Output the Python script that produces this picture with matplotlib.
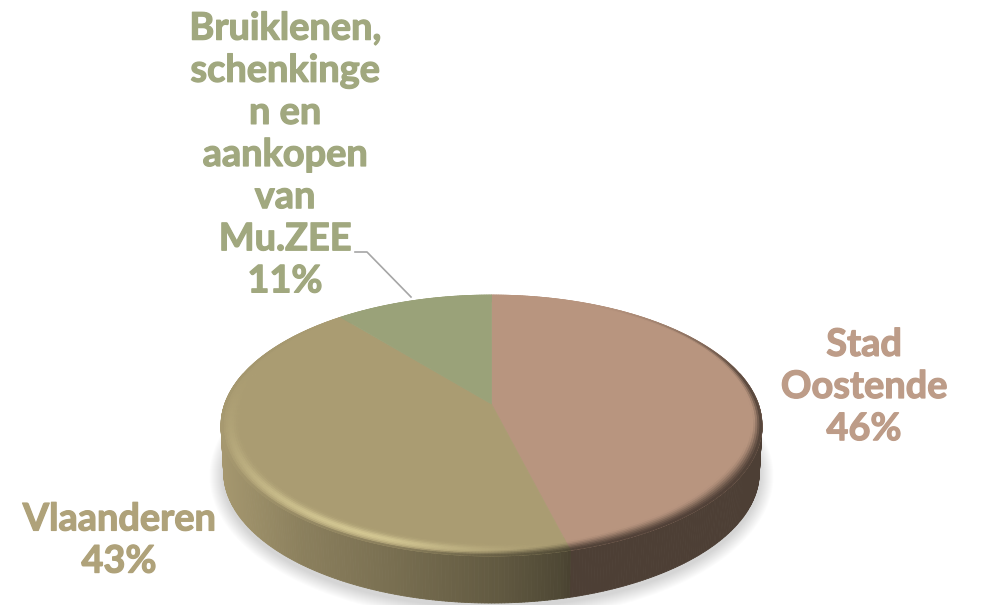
import numpy as np
import matplotlib
matplotlib.use("Agg")
import matplotlib.pyplot as plt
import matplotlib.patheffects as pe
from matplotlib.collections import PolyCollection
from matplotlib.colors import to_rgb

categories = ["Stad\nOostende", "Vlaanderen", "Bruiklenen,\nschenkinge\nn en\naankopen\nvan\nMu.ZEE"]
values = [46, 43, 11]
face_colors = ["#B8957F", "#AA9C72", "#9AA279"]
label_colors = ["#BD9C88", "#AFA27A", "#A1A87F"]
highlight_color = "#D6CA95"

plt.rcParams["font.family"] = ["Lato", "DejaVu Sans"]
fig = plt.figure(figsize=(9.82, 6.05), dpi=100)
ax = fig.add_axes([0, 0, 1, 1])
ax.set_xlim(0, 982)
ax.set_ylim(605, 0)
ax.axis("off")

# perspective view of the unit disc
CX, CY0, K, A, B = 491.5, 404.0, 0.1648, 266.8, -60.4
DEPTH = 47.0

def project(r, phi):
    u, v = r * np.cos(phi), r * np.sin(phi)
    d = 1 + K * v
    return CX + A * u / d, (B * v + CY0) / d

def side_factor(x):
    return np.interp(x, [222, 300, 400, 500, 562, 572, 763],
                     [0.97, 0.82, 0.70, 0.57, 0.46, 0.42, 0.42])

def smooth(a, b, x):
    s = np.clip((x - a) / (b - a), 0, 1)
    return s * s * (3 - 2 * s)

# soft shadow
for i in range(14):
    grow = 14 - i
    th = np.linspace(0, 2 * np.pi, 240)
    ax.fill(CX + (268 + grow) * np.cos(th), 476 + (131 + grow) * np.sin(th),
            color="#000000", alpha=0.012, lw=0, zorder=1)

shares = np.array(values, dtype=float) / np.sum(values)
edges = np.pi / 2 - 2 * np.pi * np.concatenate([[0], np.cumsum(shares)])
step = np.radians(0.6)

for k in range(len(values)):
    phi1, phi0 = edges[k], edges[k + 1]
    n = max(int((phi1 - phi0) / step), 2)
    phis = np.linspace(phi1, phi0, n + 1)
    base = np.array(to_rgb(face_colors[k]))
    hi = np.array(to_rgb(highlight_color))

    # wall
    quads, cols = [], []
    for a, b in zip(phis[:-1], phis[1:]):
        if np.sin((a + b) / 2) > 0.25:
            continue
        xa, ya = project(1, a)
        xb, yb = project(1, b)
        xa2, xb2 = CX + (xa - CX) * 0.99, CX + (xb - CX) * 0.99
        quads.append([(xa, ya), (xb, yb), (xb2, yb + DEPTH), (xa2, ya + DEPTH)])
        cols.append(np.clip(base * side_factor((xa + xb) / 2), 0, 1))
    if quads:
        ax.add_collection(PolyCollection(quads, facecolors=cols, edgecolors=cols,
                                         linewidths=0.6, zorder=2))

    # flat top
    x, y = project(1, phis)
    ax.fill(np.r_[CX, x], np.r_[CY0, y], color=face_colors[k], lw=0.5, zorder=3)

    # rounded edge
    rings = np.linspace(0.925, 1.0, 11)
    quads, cols = [], []
    for r0, r1 in zip(rings[:-1], rings[1:]):
        t = ((r0 + r1) / 2 - rings[0]) / (rings[-1] - rings[0])
        for a, b in zip(phis[:-1], phis[1:]):
            m = ((a + b) / 2) % (2 * np.pi)
            deg = np.degrees(m)
            xa, ya = project(r0, a)
            xb, yb = project(r0, b)
            xc, yc = project(r1, b)
            xd, yd = project(r1, a)
            side = np.clip(base * side_factor((xa + xb) / 2), 0, 1)
            c = base.copy()
            # highlight towards the lower left
            d = deg - 246
            sig = 42 if d < 0 else 20
            lit = np.exp(-(d / sig) ** 2) * smooth(60, 120, deg)
            bump = np.exp(-((t - 0.55) / 0.28) ** 2)
            c = c + (hi - c) * lit * bump * (0.95 if k == 1 else 0.0)
            # falloff into the wall
            if deg > 90:
                right = smooth(230, 300, deg)
                left = smooth(130, 190, deg)
                wide = smooth(250, 300, deg) * (1 - 0.7 * smooth(320, 360, deg))
            else:
                right = smooth(70, 5, deg)
                left = 0.0
                wide = 0.3 * smooth(45, 0, deg)
            gate = max(left, right)
            start = 0.80 - 0.62 * wide
            c = c + (side - c) * smooth(start, 1.04, t) * gate
            quads.append([(xa, ya), (xb, yb), (xc, yc), (xd, yd)])
            cols.append(np.clip(c, 0, 1))
    ax.add_collection(PolyCollection(quads, facecolors=cols, edgecolors=cols,
                                     linewidths=0.5, zorder=4))

# labels
label_style = dict(ha="center", va="center", fontsize=27.3, fontweight="bold", linespacing=1.29, zorder=6)
for txt, col, lx, ly in [
    (f"{categories[0]}\n{values[0]}%", label_colors[0], 864, 387),
    (f"{categories[1]}\n{values[1]}%", label_colors[1], 119, 540.5),
    (f"{categories[2]}\n{values[2]}%", label_colors[2], 285, 155),
]:
    t = ax.text(lx, ly, txt, color=col, **label_style)
    t.set_path_effects([pe.withStroke(linewidth=0.9, foreground=col)])

# leader line
ax.plot([355, 367, 411], [252, 252, 297], color="#A6A6A6", lw=1.2, zorder=5)

fig.savefig("out.png", dpi=100, facecolor="white")
